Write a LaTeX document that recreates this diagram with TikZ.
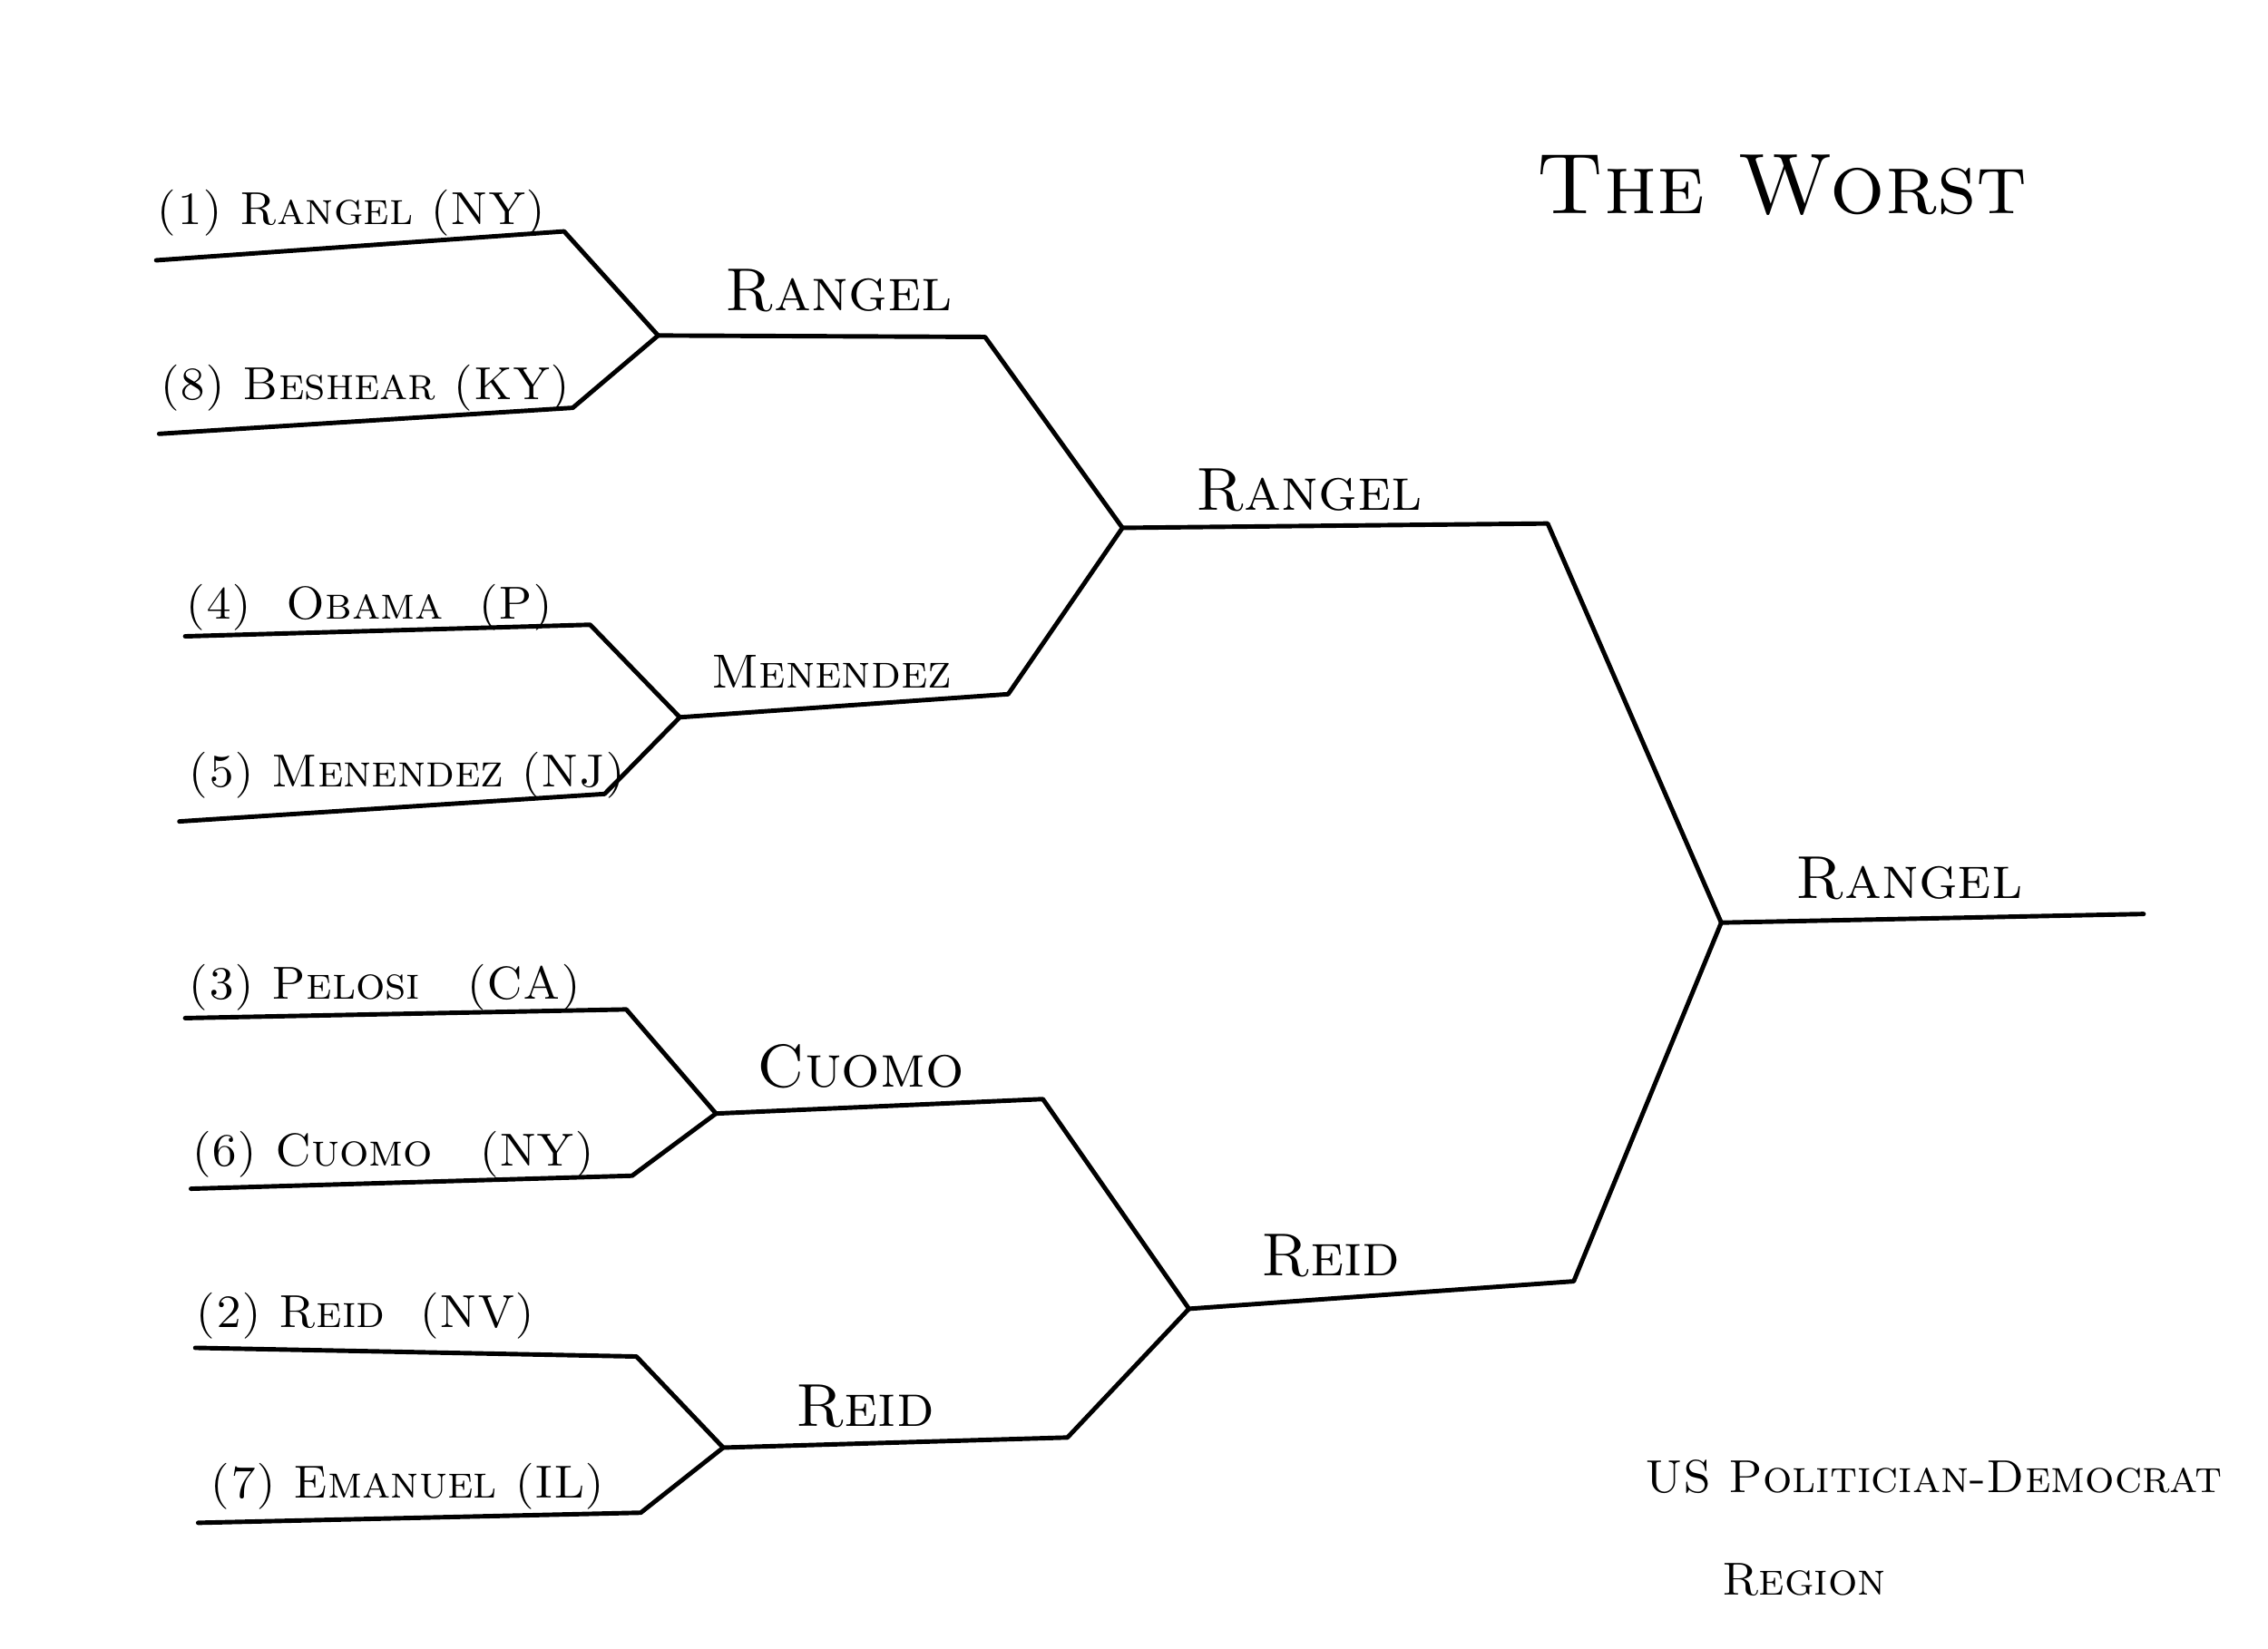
\documentclass[tikz,border=0pt]{standalone}
\usepackage{fontspec}
\usepackage{tikz}
\usetikzlibrary{positioning}

\begin{document}
\begin{tikzpicture}[
    x=0.015944cm, y=-0.015944cm,
    bracket/.style={line width=1.4pt, line join=round, line cap=round},
    seed/.style={inner sep=0pt, anchor=base west, font=\fontsize{14.5}{17}\selectfont\scshape},
    winner/.style={inner sep=0pt, anchor=base, font=\fontsize{19}{22}\selectfont\scshape},
    caption/.style={inner sep=0pt, font=\fontsize{14.5}{17}\selectfont\scshape}
  ]
    \useasboundingbox (0,0) rectangle (1568,1140);

    % first round lines
    \coordinate (s1a) at (108,180);  \coordinate (s1b) at (390,160);
    \coordinate (s8a) at (110,300);  \coordinate (s8b) at (396,282);
    \coordinate (s4a) at (128,440);  \coordinate (s4b) at (408,432);
    \coordinate (s5a) at (124,568);  \coordinate (s5b) at (418,549);
    \coordinate (s3a) at (128,704);  \coordinate (s3b) at (433,698);
    \coordinate (s6a) at (132,822);  \coordinate (s6b) at (437,813);
    \coordinate (s2a) at (135,932);  \coordinate (s2b) at (440,938);
    \coordinate (s7a) at (137,1053); \coordinate (s7b) at (443,1046);
    % second round
    \coordinate (q1a) at (455,232);  \coordinate (q1b) at (681,233);
    \coordinate (q2a) at (470,496);  \coordinate (q2b) at (697,480);
    \coordinate (q3a) at (495,770);  \coordinate (q3b) at (721,760);
    \coordinate (q4a) at (500,1001); \coordinate (q4b) at (738,994);
    % semis and final
    \coordinate (f1a) at (776,365);  \coordinate (f1b) at (1070,362);
    \coordinate (f2a) at (822,905);  \coordinate (f2b) at (1088,886);
    \coordinate (wa) at (1190,638);  \coordinate (wb) at (1482,632);

    \node[seed] (n1) at (108,155) {(1) Rangel (NY)};
    \node[seed] (n8) at (110,276) {(8) Beshear (KY)};
    \node[seed] (n4) at (128,428) {(4)\ \ Obama\ \ (P)};
    \node[seed] (n5) at (130,544) {(5) Menendez (NJ)};
    \node[seed] (n3) at (130,691) {(3) Pelosi\quad (CA)};
    \node[seed] (n6) at (132,806) {(6) Cuomo\quad (NY)};
    \node[seed] (n2) at (135,918) {(2) Reid\ \ (NV)};
    \node[seed] (n7) at (145,1036) {(7) Emanuel (IL)};

    \node[winner] (r1) at (580,215) {Rangel};
    \node[winner, font=\fontsize{15}{18}\selectfont\scshape] (r2) at (575,476) {Menendez};
    \node[winner] (r3) at (595,752) {Cuomo};
    \node[winner] (r4) at (598,986) {Reid};
    \node[winner] (t1) at (905,353) {Rangel};
    \node[winner] (t2) at (920,882) {Reid};
    \node[winner] (champ) at (1320,621) {Rangel};

    \node[inner sep=0pt, anchor=base, font=\fontsize{27}{30}\selectfont\scshape] (title) at (1232,148) {The Worst};
    \node[caption, anchor=base west] (region1) at (1137,1032) {US Politician-Democrat};
    \node[caption, anchor=base west] (region2) at (1190,1103) {Region};

    \draw[bracket] (s1a) -- (s1b) -- (q1a);
    \draw[bracket] (s8a) -- (s8b) -- (q1a);
    \draw[bracket] (s4a) -- (s4b) -- (q2a);
    \draw[bracket] (s5a) -- (s5b) -- (q2a);
    \draw[bracket] (s3a) -- (s3b) -- (q3a);
    \draw[bracket] (s6a) -- (s6b) -- (q3a);
    \draw[bracket] (s2a) -- (s2b) -- (q4a);
    \draw[bracket] (s7a) -- (s7b) -- (q4a);
    \draw[bracket] (q1a) -- (q1b) -- (f1a);
    \draw[bracket] (q2a) -- (q2b) -- (f1a);
    \draw[bracket] (q3a) -- (q3b) -- (f2a);
    \draw[bracket] (q4a) -- (q4b) -- (f2a);
    \draw[bracket] (f1a) -- (f1b) -- (wa);
    \draw[bracket] (f2a) -- (f2b) -- (wa);
    \draw[bracket] (wa) -- (wb);
\end{tikzpicture}
\end{document}
